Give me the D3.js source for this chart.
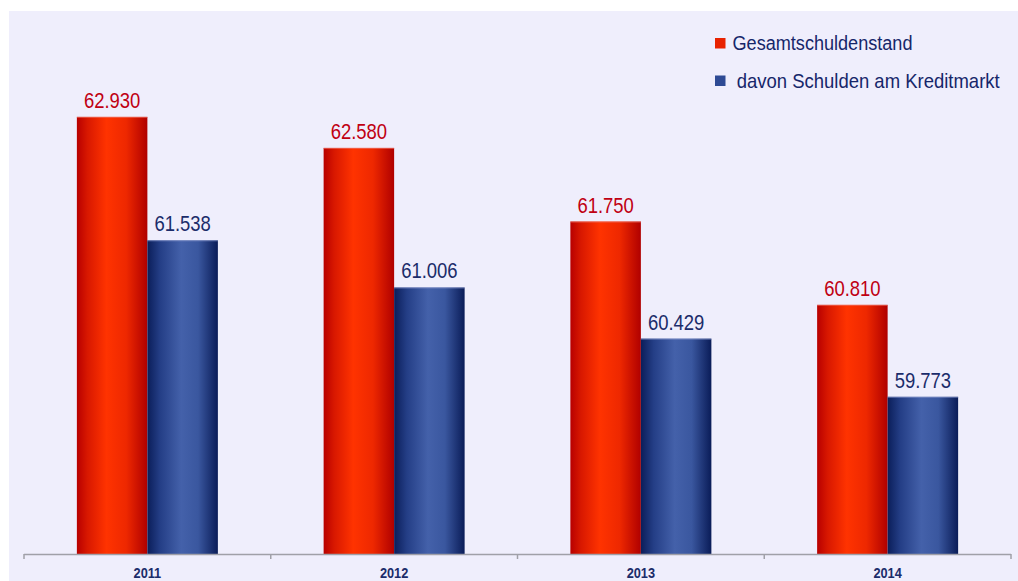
<!DOCTYPE html>
<html>
<head>
<meta charset="utf-8">
<script src="https://cdn.jsdelivr.net/npm/d3@7"></script>
<style>
  html, body { margin: 0; padding: 0; background: #ffffff; }
  svg { display: block; }
  text { font-family: "Liberation Sans", Arial, sans-serif; }
</style>
</head>
<body>
<svg id="chart" width="1018" height="581"></svg>
<script>
const categories = ["2011", "2012", "2013", "2014"];
const seriesNames = ["Gesamtschuldenstand", " davon Schulden am Kreditmarkt"];
const gesamt = [62.930, 62.580, 61.750, 60.810];
const kredit = [61.538, 61.006, 60.429, 59.773];
const labelsGesamt = ["62.930", "62.580", "61.750", "60.810"];
const labelsKredit = ["61.538", "61.006", "60.429", "59.773"];

const svg = d3.select("#chart");
const W = 1018, H = 581;

// plot background
svg.append("rect").attr("x", 9).attr("y", 11).attr("width", W - 9).attr("height", H - 11)
  .attr("fill", "#efeefc");

const defs = svg.append("defs");
function grad(id, stops) {
  const g = defs.append("linearGradient").attr("id", id)
    .attr("x1", "0%").attr("x2", "100%").attr("y1", "0%").attr("y2", "0%");
  stops.forEach(s => g.append("stop").attr("offset", s[0]).attr("stop-color", s[1]));
}
grad("gRed", [["0%", "#b80000"], ["15%", "#d81800"], ["42%", "#ff3300"], ["70%", "#ee2800"], ["100%", "#b00000"]]);
grad("gBlue", [["0%", "#0b1e5a"], ["18%", "#243e86"], ["48%", "#4461aa"], ["72%", "#3a579f"], ["100%", "#0a1c58"]]);

const x0 = d3.scaleBand().domain(categories).range([24, 1011]).paddingInner(0).paddingOuter(0);
const groupW = 141;
const x1 = d3.scaleBand().domain([0, 1]).range([0, groupW]).padding(0);
const y = d3.scaleLinear().domain([58, 64]).range([554, 22]);

const data = categories.map((c, i) => ({
  cat: c,
  vals: [
    { s: 0, v: gesamt[i], label: labelsGesamt[i] },
    { s: 1, v: kredit[i], label: labelsKredit[i] }
  ]
}));

const fills = ["url(#gRed)", "url(#gBlue)"];
const labelColors = ["#c00012", "#1b2c6a"];

const groups = svg.selectAll("g.grp").data(data).enter().append("g")
  .attr("class", "grp")
  .attr("transform", d => `translate(${x0(d.cat) + (x0.bandwidth() - groupW) / 2},0)`);

groups.selectAll("rect").data(d => d.vals).enter().append("rect")
  .attr("x", d => x1(d.s))
  .attr("y", d => y(d.v))
  .attr("width", x1.bandwidth())
  .attr("height", d => y(58) - y(d.v))
  .attr("fill", d => fills[d.s]);

// thin top highlight
groups.selectAll("line.top").data(d => d.vals).enter().append("line")
  .attr("class", "top")
  .attr("x1", d => x1(d.s)).attr("x2", d => x1(d.s) + x1.bandwidth())
  .attr("y1", d => y(d.v) + 0.5).attr("y2", d => y(d.v) + 0.5)
  .attr("stroke", d => d.s === 0 ? "#f07060" : "#8090c8").attr("stroke-width", 1).attr("opacity", 0.7);

groups.selectAll("text.val").data(d => d.vals).enter().append("text")
  .attr("class", "val")
  .attr("transform", d => `translate(${x1(d.s) + x1.bandwidth() / 2},${y(d.v) - 9}) scale(0.84,1)`)
  .attr("text-anchor", "middle")
  .attr("font-size", 22)
  .attr("fill", d => labelColors[d.s])
  .text(d => d.label);

// x axis
const axisG = svg.append("g").attr("transform", "translate(0,554)");
axisG.append("line").attr("x1", 24).attr("x2", 1011).attr("y1", 0.5).attr("y2", 0.5)
  .attr("stroke", "#a0a0a8").attr("stroke-width", 1.5);
const tickPos = categories.map(c => x0(c)).concat([x0(categories[categories.length - 1]) + x0.bandwidth()]);
axisG.selectAll("line.tick").data(tickPos).enter().append("line")
  .attr("class", "tick")
  .attr("x1", d => d).attr("x2", d => d).attr("y1", 0).attr("y2", 5)
  .attr("stroke", "#a0a0a8").attr("stroke-width", 1.5);
axisG.selectAll("text.cat").data(categories).enter().append("text")
  .attr("class", "cat")
  .attr("transform", d => `translate(${x0(d) + x0.bandwidth() / 2},24) scale(0.85,1)`)
  .attr("text-anchor", "middle")
  .attr("font-size", 15)
  .attr("font-weight", "bold")
  .attr("fill", "#1b2c6a")
  .text(d => d);

// legend
const legendColors = ["#e82200", "#2e4a94"];
const legend = svg.append("g");
const legRows = [43.5, 81];
const legScale = [0.905, 0.925];
seriesNames.forEach((n, i) => {
  legend.append("rect").attr("x", 715).attr("y", legRows[i] - 5.5).attr("width", 10.5).attr("height", 10.5)
    .attr("fill", legendColors[i]);
  legend.append("text")
    .attr("transform", `translate(${i === 0 ? 732.5 : 731.5},${legRows[i] + 6.5}) scale(${legScale[i]},1)`)
    .attr("font-size", 20)
    .attr("fill", "#16266a")
    .attr("xml:space", "preserve")
    .style("white-space", "pre")
    .text(n);
});
</script>
</body>
</html>
